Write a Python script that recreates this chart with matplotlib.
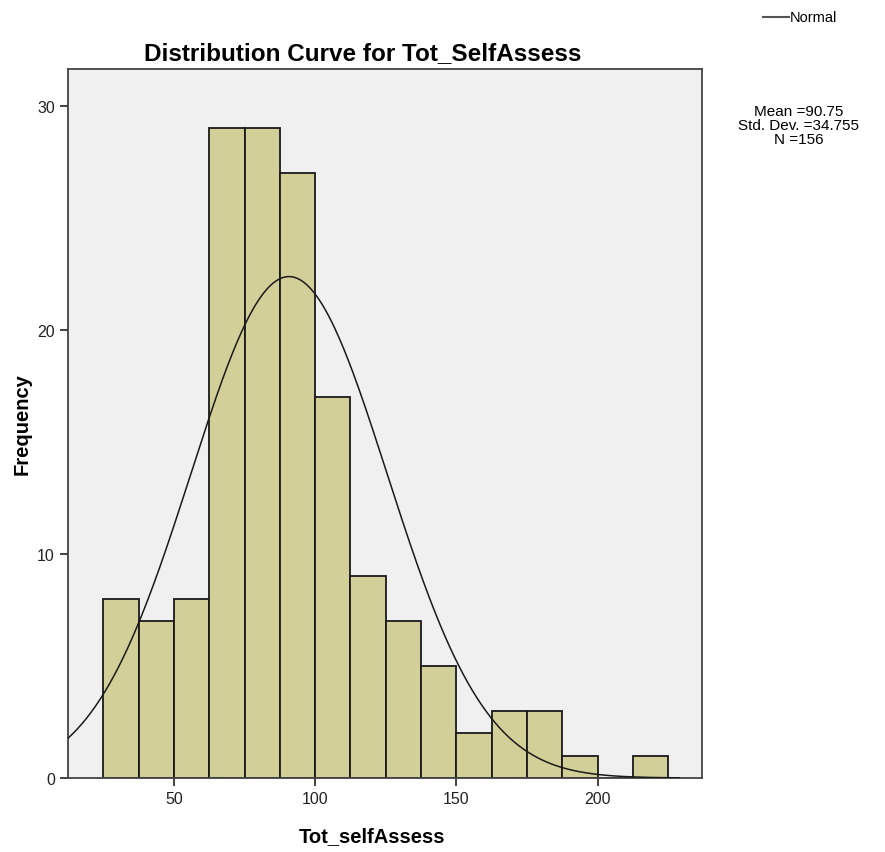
import numpy as np
import matplotlib
matplotlib.use("Agg")
import matplotlib.pyplot as plt

# histogram counts per bin (bin width 12.5 starting at 25)
bin_edges = [25, 37.5, 50, 62.5, 75, 87.5, 100, 112.5, 125, 137.5, 150,
             162.5, 175, 187.5, 200, 212.5, 225]
counts = [8, 7, 8, 29, 29, 27, 17, 9, 7, 5, 2, 3, 3, 1, 0, 1]
mean = 90.75
std_dev = 34.755
n_obs = 156
x_ticks = [50, 100, 150, 200]
y_ticks = [0, 10, 20, 30]

plt.rcParams['font.family'] = ['Liberation Sans', 'DejaVu Sans']

fig = plt.figure(figsize=(8.85, 8.53), dpi=100)
ax = fig.add_axes([68/885, 1 - 779/853, (702 - 68)/885, (779 - 70)/853])
ax.set_facecolor('#f0f0f0')

widths = np.diff(bin_edges)
ax.bar(bin_edges[:-1], counts, width=widths, align='edge',
       color='#d3cf98', edgecolor='#1a1a1a', linewidth=1.3, zorder=2)

# normal curve scaled to counts
bw = widths[0]
xs = np.linspace(12.5, 229, 400)
ys = n_obs * bw * np.exp(-0.5 * ((xs - mean) / std_dev) ** 2) / (std_dev * np.sqrt(2 * np.pi))
ax.plot(xs, ys, color='#1a1a1a', linewidth=1.1, zorder=3)

ax.set_xlim(12.5, 237)
ax.set_ylim(0, 31.65)
ax.set_xticks(x_ticks)
ax.set_yticks(y_ticks)
ax.tick_params(axis='both', labelsize=11.5, length=6, width=1.3, color='#333333',
               labelcolor='#222222')
for s in ax.spines.values():
    s.set_color('#444444')
    s.set_linewidth(1.3)

ax.set_title('Distribution Curve for Tot_SelfAssess', fontsize=17.5,
             fontweight='bold', x=0.465, pad=7)
ax.set_xlabel('Tot_selfAssess', fontsize=14.5, fontweight='bold')
ax.xaxis.set_label_coords(0.48, -0.068)
ax.set_ylabel('Frequency', fontsize=14.5, fontweight='bold')
ax.yaxis.set_label_coords(-0.058, 0.5)

# legend and stats on the right
fig.lines.append(plt.Line2D([763/885, 789/885], [1 - 18/853, 1 - 18/853],
                            color='#555555', linewidth=1.5, transform=fig.transFigure))
fig.text(790/885, 1 - 18/853, 'Normal', fontsize=10.5, va='center', ha='left')
fig.text(799/885, 1 - 126/853,
         'Mean =%.2f\nStd. Dev. =%.3f\nN =%d' % (mean, std_dev, n_obs),
         fontsize=11, ha='center', va='center', linespacing=1.0)

fig.savefig('out.png', dpi=100)
